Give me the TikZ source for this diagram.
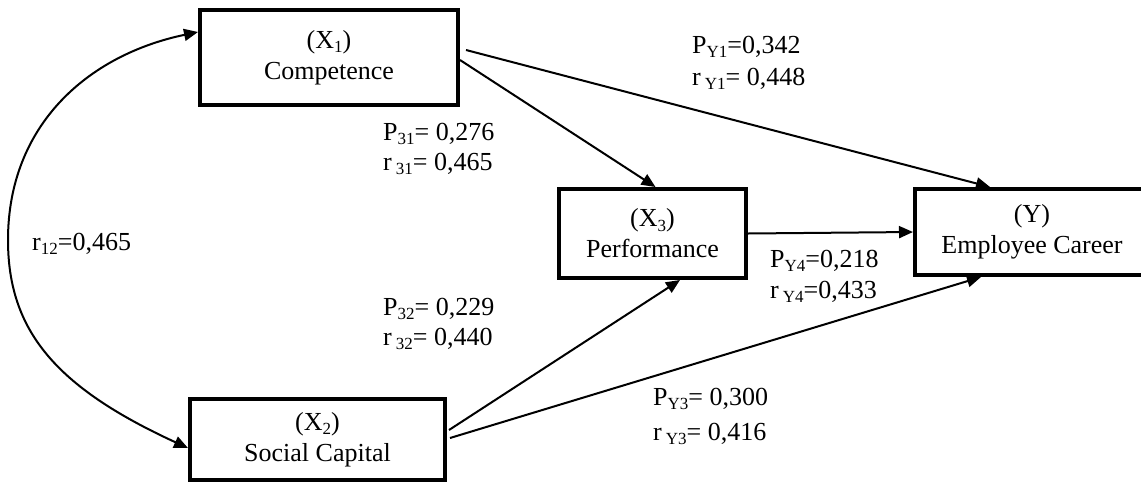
\documentclass[tikz,border=0pt]{standalone}
\usepackage{fontspec}
\setmainfont{Liberation Serif}
\usetikzlibrary{arrows.meta}
\newcommand{\sbs}[1]{\raisebox{-0.16em}{\fontsize{17}{17}\selectfont #1}}
\begin{document}
\begin{tikzpicture}[x=1pt,y=-1pt,
  box/.style={draw, line width=4pt, inner sep=0pt, align=center, font=\fontsize{26}{31}\selectfont},
  arr/.style={line width=2pt, -{Triangle[length=14pt,width=12pt]}},
  darr/.style={line width=2pt, {Triangle[length=14pt,width=12pt]}-{Triangle[length=14pt,width=12pt]}},
  lbl/.style={inner sep=0pt, anchor=base west, font=\fontsize{26}{30}\selectfont}]
\useasboundingbox (0,0) rectangle (1141,483);
% boxes
\node[box, minimum width=258pt, minimum height=95pt] (X1) at (329,57.5) {(X\sbs{1})\\Competence};
\node[box, minimum width=255pt, minimum height=81pt] (X2) at (317.5,439.5) {(X\sbs{2})\\Social Capital};
\node[box, minimum width=187pt, minimum height=89pt] (X3) at (652.5,233.5) {(X\sbs{3})\\Performance};
\node[box, minimum width=234pt, minimum height=86pt] (Y) at (1032,232) {(Y)\\Employee Career};
% connectors
\draw[arr] ([yshift=-2.5pt]X1.east) -- ([xshift=3pt]X3.north);
\draw[arr] ([xshift=6pt,yshift=7.5pt]X1.east) -- ([xshift=-42pt]Y.north);
\draw[arr] (X3.east) -- (Y.west);
\draw[arr] ([xshift=2pt,yshift=9.5pt]X2.east) -- ([xshift=27.5pt]X3.south);
\draw[arr] ([xshift=3pt,yshift=1.5pt]X2.east) -- ([xshift=-51pt]Y.south);
\coordinate (cl) at (8,240);
\draw[darr] ([yshift=25.5pt]X1.west) .. controls (88,55) and (8,125) .. (cl)
  .. controls (8,330) and (55,387) .. ([yshift=-8.5pt]X2.west);
% labels
\node[lbl] (p31) at (383,140) {P\sbs{31}= 0,276};
\node[lbl] (r31) at (383,170) {r\hspace{4pt}\sbs{31}= 0,465};
\node[lbl] (py1) at (692,53) {P\sbs{Y1}=0,342};
\node[lbl] (ry1) at (692,85) {r\hspace{4pt}\sbs{Y1}= 0,448};
\node[lbl] (r12) at (32,250) {r\sbs{12}=0,465};
\node[lbl] (p32) at (383,315) {P\sbs{32}= 0,229};
\node[lbl] (r32) at (383,345) {r\hspace{4pt}\sbs{32}= 0,440};
\node[lbl] (py4) at (770,267) {P\sbs{Y4}=0,218};
\node[lbl] (ry4) at (770,298) {r\hspace{4pt}\sbs{Y4}=0,433};
\node[lbl] (py3) at (653,405) {P\sbs{Y3}= 0,300};
\node[lbl] (ry3) at (653,440) {r\hspace{4pt}\sbs{Y3}= 0,416};
\end{tikzpicture}
\end{document}
